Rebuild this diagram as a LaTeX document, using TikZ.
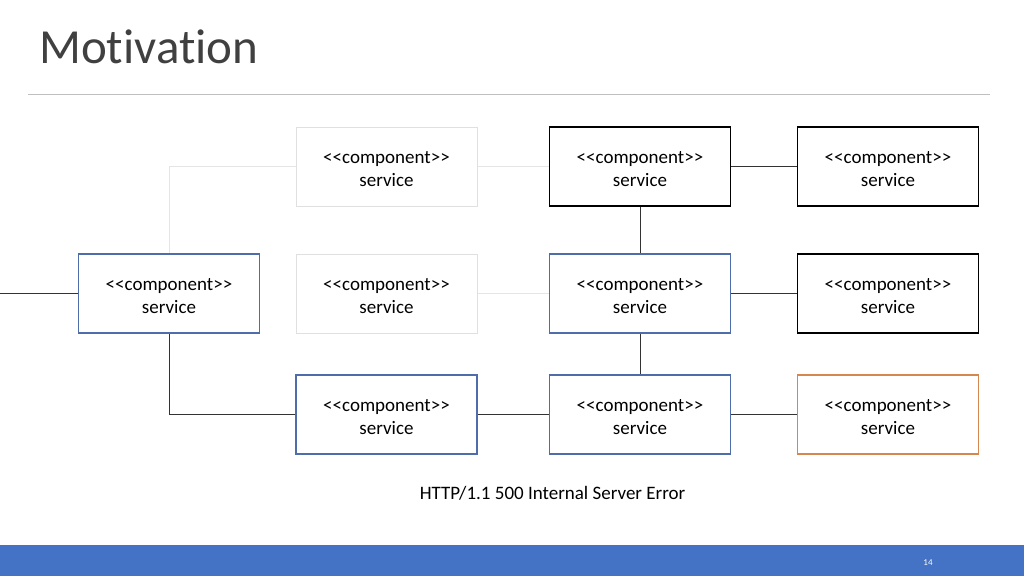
\documentclass[tikz,border=0pt]{standalone}
\usepackage{fontspec}
\setmainfont{Carlito}[Ligatures={NoCommon}]
\newcommand\cmptext{\rule{0pt}{17pt}<\kern0pt<component>\kern0pt>\\service}
\begin{document}
\begin{tikzpicture}[x=1pt,y=-1pt,
  comp/.style={draw, minimum width=181pt, minimum height=79pt, inner sep=0pt, align=center, font=\fontsize{19}{23}\selectfont, line width=1.3pt, fill=white},
  greybox/.style={comp, draw=black!12, line width=1pt},
  blackbox/.style={comp, draw=black},
  bluebox/.style={comp, draw=blueb, line width=1.6pt},
  orangebox/.style={comp, draw=orangeb, line width=1.6pt},
  lnk/.style={draw=black!80, line width=1pt},
  faint/.style={draw=black!10, line width=1pt}]
\definecolor{blueb}{HTML}{4F6DA8}
\definecolor{orangeb}{HTML}{D4874F}
\definecolor{barblue}{HTML}{4472C4}
\useasboundingbox (0,0) rectangle (1024,576);
\fill[white] (0,0) rectangle (1024,576);
% title
\node[anchor=base west, inner sep=0pt, text=black!75, font=\fontsize{49}{60}\selectfont] (title) at (39,63) {Motivation};
\draw[black!25, line width=0.8pt] (28,94) -- (990,94);
% boxes
\node[greybox]  (a1) at (386.5,166.5) {\cmptext};
\node[blackbox] (b1) at (640,166.5) {\cmptext};
\node[blackbox] (c1) at (888,166.5) {\cmptext};
\node[bluebox]  (l2) at (169,293.5) {\cmptext};
\node[greybox]  (a2) at (386.5,293.5) {\cmptext};
\node[bluebox]  (b2) at (640,293.5) {\cmptext};
\node[blackbox] (c2) at (888,293.5) {\cmptext};
\node[bluebox]  (a3) at (386.5,414.5) {\cmptext};
\node[bluebox]  (b3) at (640,414.5) {\cmptext};
\node[orangebox](c3) at (888,414.5) {\cmptext};
\coordinate (in) at (0,293.5);
% connectors
\draw[faint] (l2.north) |- (a1.west);
\draw[faint] (a1.east) -- (b1.west);
\draw[faint] (a2.east) -- (b2.west);
\draw[lnk] (b1.east) -- (c1.west);
\draw[lnk] (b1.south) -- (b2.north);
\draw[lnk] (b2.east) -- (c2.west);
\draw[lnk] (b2.south) -- (b3.north);
\draw[lnk] (b3.east) -- (c3.west);
\draw[lnk] (a3.east) -- (b3.west);
\draw[lnk] (in) -- (l2.west);
\draw[lnk] (l2.south) |- (a3.west);
% caption
\node[font=\fontsize{19}{22}\selectfont] (err) at (552.5,493.5) {HTTP/1.1 500 Internal Server Error};
% bottom bar
\fill[barblue] (0,545) rectangle (1024,576);
\node[text=white, font=\fontsize{9}{10}\selectfont] (pg) at (928,563) {14};
\end{tikzpicture}
\end{document}
